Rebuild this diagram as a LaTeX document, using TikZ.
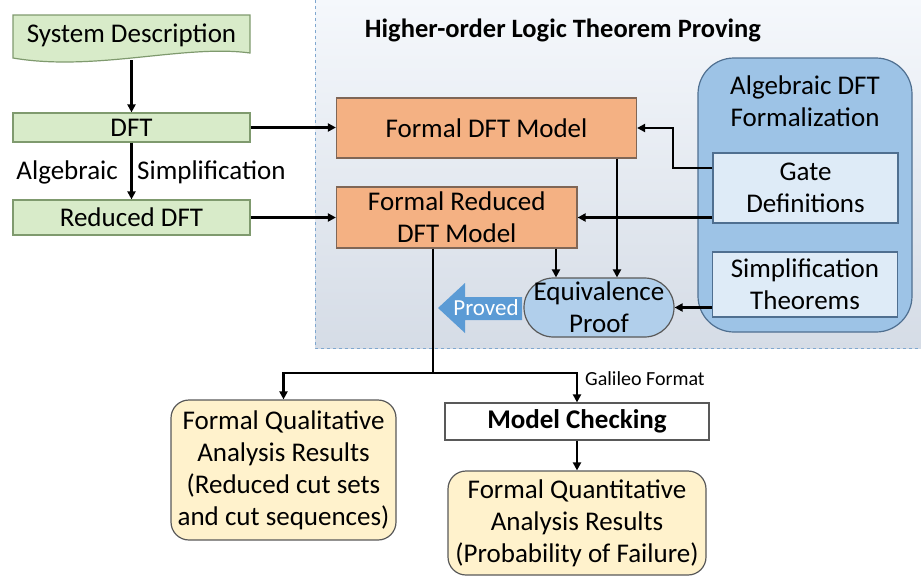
\documentclass[tikz,border=0pt]{standalone}
\usepackage{fontspec}
\setmainfont{Carlito}
\usetikzlibrary{arrows.meta,calc}
\definecolor{grfill}{HTML}{D8EBC9}
\definecolor{grdraw}{HTML}{7F9A6E}
\definecolor{orfill}{HTML}{F4B183}
\definecolor{ordraw}{HTML}{7F6656}
\definecolor{blfill}{HTML}{9DC3E6}
\definecolor{bldraw}{HTML}{4F6F90}
\definecolor{ltfill}{HTML}{DEEBF7}
\definecolor{yefill}{HTML}{FFF2CC}
\definecolor{gydraw}{HTML}{595959}
\definecolor{provedc}{HTML}{5B9BD5}
\definecolor{bgtop}{HTML}{F5F8FC}
\definecolor{bgbot}{HTML}{D5DCE6}
\definecolor{dashc}{HTML}{7FA7CF}
\newcommand\fsz{\fontsize{27}{32}\selectfont}
\begin{document}
\begin{tikzpicture}[x=1pt,y=-1pt,
  box/.style={draw, line width=1.2pt, inner sep=0pt, align=center, font=\fsz},
  greenbox/.style={box, fill=grfill, draw=grdraw, minimum width=237pt},
  orangebox/.style={box, fill=orfill, draw=ordraw},
  lightbox/.style={box, fill=ltfill, draw=bldraw, minimum width=185pt},
  yellowbox/.style={box, fill=yefill, draw=gydraw, rounded corners=18pt},
  arr/.style={line width=2.1pt, -{Triangle[length=8pt,width=8pt]}},
  plain/.style={line width=2.1pt},
  lbl/.style={inner sep=0pt, font=\fsz}]
\useasboundingbox (0,0) rectangle (921,579);
% background region
\fill[top color=bgtop, bottom color=bgbot] (315,-1) rectangle (922,348);
\draw[dashc, dashed, line width=1pt] (315,0) -- (315,348) -- (922,348);
\node[lbl, font=\fontsize{26.5}{32}\selectfont\bfseries] (title) at (563,30) {Higher-order Logic Theorem Proving};

% left column
\draw[grdraw, fill=grfill, line width=1.2pt] (13,15) -- (250,15) -- (250,53) .. controls (185,44) and (95,72) .. (13,58) -- cycle;
\node[lbl, minimum width=237pt, minimum height=45pt] (sys) at (131.5,37.5) {};
\node[lbl] (systxt) at (131.5,35) {System Description};
\node[greenbox, minimum height=29pt] (dft) at (131.5,127.5) {DFT};
\node[greenbox, minimum height=35pt] (red) at (131.5,217.5) {Reduced DFT};
\node[lbl, anchor=east] (alglbl) at (118,172) {Algebraic};
\node[lbl, anchor=west] (simplbl) at (137,172) {Simplification};

% formal models
\node[orangebox, minimum width=300pt, minimum height=60pt] (fdft) at (486.5,128) {Formal DFT Model};
\node[orangebox, minimum width=240.5pt, minimum height=61pt] (fred) at (456.75,217.5) {Formal Reduced\\DFT Model};

% algebraic formalization
\node[box, fill=blfill, draw=bldraw, rounded corners=36pt, minimum width=214pt, minimum height=274pt] (alg) at (805,195) {};
\node[lbl, align=center] (algtxt) at (805,101) {Algebraic DFT\\Formalization};
\node[lightbox, minimum height=70pt] (gate) at (805.5,188) {Gate\\Definitions};
\node[lightbox, minimum height=65pt] (simp) at (805,284.5) {Simplification\\Theorems};

% equivalence proof
\node[box, fill=blfill!80!white, draw=gydraw, rounded corners=29.5pt, minimum width=150pt, minimum height=59pt] (eq) at (599,307.5) {Equivalence\\Proof};
\fill[provedc] (438,308) -- (465,283) -- (465,297) -- (522,297) -- (522,320) -- (465,320) -- (465,333) -- cycle;
\node[lbl, text=white, font=\fontsize{23}{28}\selectfont] (proved) at (486,308) {Proved};

% bottom part
\node[yellowbox, minimum width=225pt, minimum height=140pt] (qual) at (283.5,470) {Formal Qualitative\\Analysis Results\\(Reduced cut sets\\and cut sequences)};
\node[box, fill=white, draw=gydraw, minimum width=264pt, minimum height=37pt, font=\fsz\bfseries] (mc) at (577,421.5) {Model Checking};
\node[yellowbox, minimum width=258pt, minimum height=104pt] (quant) at (577,523) {Formal Quantitative\\Analysis Results\\(Probability of Failure)};
\node[lbl, anchor=west, font=\fontsize{20}{24}\selectfont] (gal) at (585,379) {Galileo Format};
\coordinate (split) at (433,373);

% connectors
\draw[arr] (sys.south) -- (dft.north);
\draw[arr] (dft.south) -- (red.north);
\draw[arr] (dft.east) -- (dft.east -| fdft.west);
\draw[arr] (red.east) -- (red.east -| fred.west);
\draw[arr] ([yshift=20pt]gate.west) -- ++(-39,0) |- (fdft.east);
\draw[arr] (gate.west |- fred.east) -- (fred.east);
\draw[arr] ([xshift=130.5pt]fdft.south) -- ([xshift=130.5pt]fdft.south |- eq.north);
\draw[arr] ([xshift=99.25pt]fred.south) -- ([xshift=99.25pt]fred.south |- eq.north);
\draw[arr] (simp.west |- eq.east) -- (eq.east);
\draw[plain] ([xshift=-23.75pt]fred.south) -- (split);
\draw[arr] (split) -| (qual.north);
\draw[arr] (split) -| (mc.north);
\draw[arr] (mc.south) -- (quant.north);
\end{tikzpicture}
\end{document}
